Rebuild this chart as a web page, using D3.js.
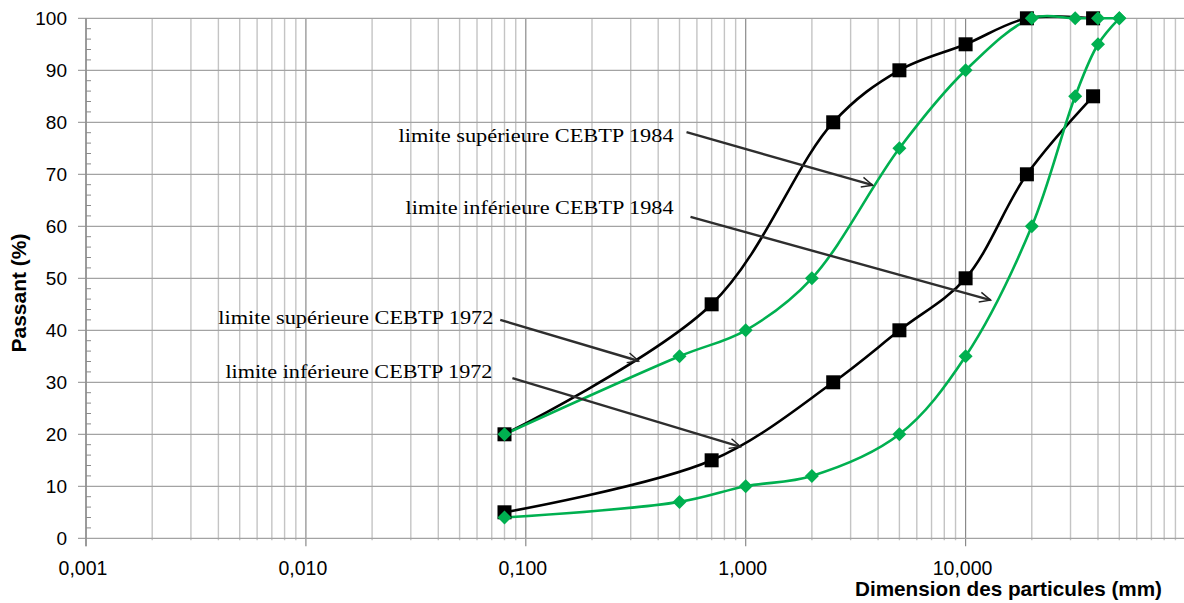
<!DOCTYPE html>
<html><head><meta charset="utf-8">
<script src="https://cdn.jsdelivr.net/npm/d3@7"></script>
<style>body{margin:0;background:#fff}svg{display:block}</style>
</head><body>
<svg id="c" width="1184" height="603"></svg>
<script>
// ---- data ----
const sizes1972 = [0.08, 0.7, 2.5, 5, 10, 19, 38];
const pass1972Sup = [20, 45, 80, 90, 95, 100, 100];
const pass1972Inf = [5, 15, 30, 40, 50, 70, 85];
const sizes1984 = [0.08, 0.5, 1, 2, 5, 10, 20, 31.5, 40, 50];
const pass1984Sup = [20, 35, 40, 50, 75, 90, 100, 100, 100, 100];
const pass1984Inf = [4, 7, 10, 12, 20, 35, 60, 85, 95, 100];
const xTickValues = [0.001, 0.01, 0.1, 1, 10, 100];
const yTickValues = [0, 10, 20, 30, 40, 50, 60, 70, 80, 90, 100];
const annotationLabels = ["limite supérieure CEBTP 1984", "limite inférieure CEBTP 1984",
                          "limite supérieure CEBTP 1972", "limite inférieure CEBTP 1972"];
const annotationTextAt = [[0.470, 76.2], [0.470, 62.4], [0.0712, 41.2], [0.0705, 30.9]];
const annotationArrowFrom = [[0.538, 78.1], [0.561, 61.8], [0.0765, 42.0], [0.0869, 30.8]];
const annotationArrowTo = [[3.78, 67.9], [13.0, 45.8], [0.326, 34.1], [0.948, 17.6]];
const xTitle = "Dimension des particules (mm)";
const yTitle = "Passant (%)";

// ---- layout ----
const svg = d3.select("#c");
const L = 86, R = 1185.5, T = 18.3, B = 538.3;
const x = d3.scaleLog().domain([0.001, 100]).range([L, R]);
const y = d3.scaleLinear().domain([0, 100]).range([B, T]);
const fr = d3.formatLocale({decimal: ",", thousands: " ", grouping: [3], currency: ["", "€"]});
const fmt = fr.format(".3f");

svg.append("rect").attr("width", 1184).attr("height", 603).attr("fill", "#fff");

// vertical grid
const allX = x.ticks().filter(v => v <= 100);
const isDecade = v => Math.abs(Math.log10(v) - Math.round(Math.log10(v))) < 1e-9;
svg.append("g").selectAll("line").data(allX.filter(v => !isDecade(v))).join("line")
  .attr("x1", d => x(d)).attr("x2", d => x(d)).attr("y1", T).attr("y2", B + 2)
  .attr("stroke", "#c4c4c4").attr("stroke-width", 1.4);
svg.append("g").selectAll("line").data(allX.filter(isDecade)).join("line")
  .attr("x1", d => x(d)).attr("x2", d => x(d)).attr("y1", T).attr("y2", B + 8)
  .attr("stroke", "#8a8a8a").attr("stroke-width", 1.2);

// horizontal grid
svg.append("g").selectAll("line").data(yTickValues).join("line")
  .attr("x1", L - 8).attr("x2", 1184).attr("y1", d => y(d)).attr("y2", d => y(d))
  .attr("stroke", "#a3a3a3").attr("stroke-width", 1.3);
// y minor ticks
const minorY = d3.range(0, 100, 2).filter(v => v % 10 !== 0);
svg.append("g").selectAll("line").data(minorY).join("line")
  .attr("x1", L).attr("x2", L + 5).attr("y1", d => y(d)).attr("y2", d => y(d))
  .attr("stroke", "#8a8a8a").attr("stroke-width", 1);
// left axis line
svg.append("line").attr("x1", L).attr("x2", L).attr("y1", T).attr("y2", B + 8)
  .attr("stroke", "#8a8a8a").attr("stroke-width", 1.3);

// y labels
svg.append("g").selectAll("text").data(yTickValues).join("text")
  .attr("x", 67).attr("y", d => y(d)).attr("dy", "0.36em").attr("text-anchor", "end")
  .attr("font-family", "Liberation Sans, Arial, sans-serif").attr("font-size", 19)
  .attr("fill", "#000").text(d => d);
// x labels
svg.append("g").selectAll("text").data(xTickValues.filter(v => x(v) < 1184)).join("text")
  .attr("x", d => x(d) - 3).attr("y", 575).attr("text-anchor", "middle")
  .attr("font-family", "Liberation Sans, Arial, sans-serif").attr("font-size", 19.5)
  .attr("fill", "#000").text(d => fmt(d));

// titles
svg.append("text").attr("x", 855).attr("y", 596)
  .attr("font-family", "Liberation Sans, Arial, sans-serif").attr("font-weight", "bold")
  .attr("font-size", 21).attr("textLength", 307).attr("lengthAdjust", "spacingAndGlyphs")
  .text(xTitle);
svg.append("text").attr("transform", "translate(26,293) rotate(-90)").attr("text-anchor", "middle")
  .attr("font-family", "Liberation Sans, Arial, sans-serif").attr("font-weight", "bold")
  .attr("font-size", 21).text(yTitle);

// ---- series ----
const line = d3.line().x(d => x(d[0])).y(d => y(d[1])).curve(d3.curveCatmullRom.alpha(0.5));
const series = [
  {xs: sizes1972, ys: pass1972Sup, color: "#000", marker: "square"},
  {xs: sizes1972, ys: pass1972Inf, color: "#000", marker: "square"},
  {xs: sizes1984, ys: pass1984Sup, color: "#00b050", marker: "diamond"},
  {xs: sizes1984, ys: pass1984Inf, color: "#00b050", marker: "diamond"}
];
series.forEach(s => {
  const pts = s.xs.map((v, i) => [v, s.ys[i]]);
  svg.append("path").datum(pts).attr("d", line).attr("fill", "none")
    .attr("stroke", s.color).attr("stroke-width", 2.6);
});
series.forEach(s => {
  const pts = s.xs.map((v, i) => [v, s.ys[i]]);
  const g = svg.append("g");
  if (s.marker === "square") {
    g.selectAll("rect").data(pts).join("rect")
      .attr("x", d => x(d[0]) - 7).attr("y", d => y(d[1]) - 7)
      .attr("width", 14).attr("height", 14).attr("fill", s.color);
  } else {
    g.selectAll("path").data(pts).join("path")
      .attr("transform", d => `translate(${x(d[0])},${y(d[1])})`)
      .attr("d", "M0,-7L7,0L0,7L-7,0Z").attr("fill", s.color);
  }
});

// ---- annotations ----
const widths = [275, 268, 275, 267];
svg.append("defs").append("marker").attr("id", "ah").attr("viewBox", "-12 -7 14 14")
  .attr("refX", 0).attr("refY", 0).attr("markerWidth", 14).attr("markerHeight", 14)
  .attr("markerUnits", "userSpaceOnUse").attr("orient", "auto")
  .append("path").attr("d", "M-11,-5L0,0L-11,5").attr("fill", "none")
  .attr("stroke", "#222").attr("stroke-width", 1.4);
annotationLabels.forEach((t, i) => {
  svg.append("text").attr("x", x(annotationTextAt[i][0])).attr("y", y(annotationTextAt[i][1]))
    .attr("text-anchor", "end").attr("font-family", "Liberation Serif, Times New Roman, serif")
    .attr("font-size", 19).attr("textLength", widths[i]).attr("lengthAdjust", "spacingAndGlyphs")
    .attr("fill", "#000").text(t);
  svg.append("line")
    .attr("x1", x(annotationArrowFrom[i][0])).attr("y1", y(annotationArrowFrom[i][1]))
    .attr("x2", x(annotationArrowTo[i][0])).attr("y2", y(annotationArrowTo[i][1]))
    .attr("stroke", "#2e2e2e").attr("stroke-width", 2.4).attr("marker-end", "url(#ah)");
});
</script>
</body></html>
